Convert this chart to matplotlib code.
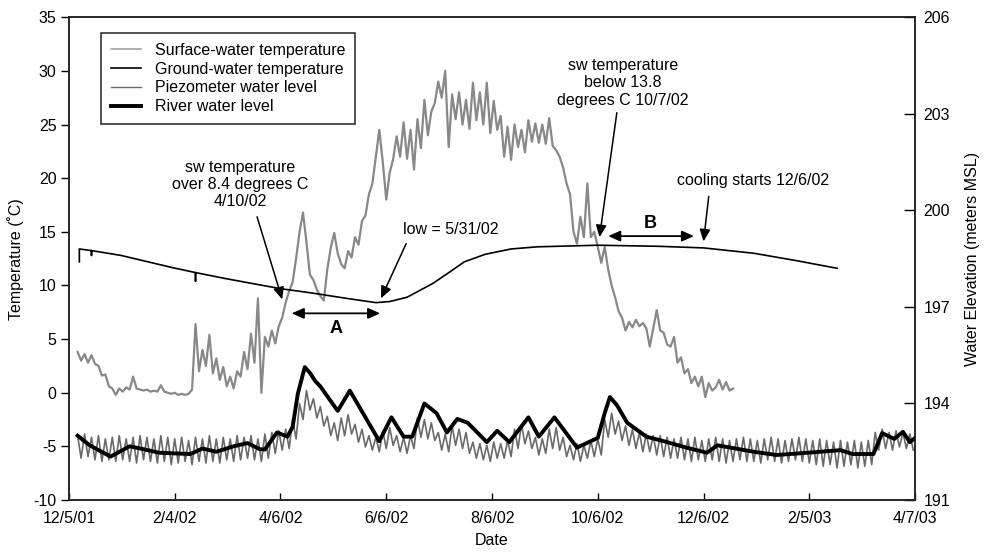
import numpy as np
import pandas as pd
import matplotlib
matplotlib.use('Agg')
import matplotlib.pyplot as plt

plt.rcParams['font.family'] = ['Liberation Sans', 'DejaVu Sans']
plt.rcParams['font.size'] = 11.5
plt.rcParams['axes.unicode_minus'] = False

start = pd.Timestamp('2001-12-05')

sw_temp = [
    3.8, 3.0, 3.6, 2.8, 3.5, 2.7, 2.5, 1.6, 1.7, 0.6,
    0.4, -0.2, 0.4, 0.1, 0.5, 0.3, 1.5, 0.4, 0.3, 0.2,
    0.3, 0.1, 0.2, 0.1, 0.7, 0.1, 0.0, -0.1, 0.0, -0.2,
    -0.1, -0.2, -0.1, 0.3, 6.4, 2.0, 4.0, 2.5, 5.4, 1.8,
    3.2, 1.2, 2.4, 0.6, 1.5, 0.4, 2.0, 1.5, 3.8, 2.2,
    5.5, 2.8, 8.8, 0.0, 5.2, 4.3, 5.8, 4.6, 6.2, 7.0,
    8.4, 9.5, 10.3, 12.5, 15.0, 16.8, 14.0, 11.0, 10.5, 9.6,
    9.0, 8.6, 11.5, 13.5, 14.9, 13.0, 12.0, 11.6, 13.2, 12.6,
    14.5, 13.8, 16.0, 16.5, 18.5, 19.5, 22.0, 24.5, 21.5, 18.0,
    20.5, 21.8, 23.9, 22.0, 25.2, 21.8, 24.5, 20.8, 25.5, 22.8,
    27.3, 24.0, 26.2, 27.0, 29.0, 27.5, 30.0, 22.9, 27.8, 25.5,
    28.0, 25.0, 27.3, 24.6, 28.9, 25.4, 28.0, 25.0, 28.9, 24.2,
    27.2, 24.5, 25.8, 22.0, 24.8, 21.7, 25.0, 22.9, 24.5, 22.4,
    25.4, 23.4, 25.1, 23.3, 25.0, 23.2, 25.6, 23.0, 22.6, 22.0,
    21.0, 19.5, 18.5, 15.0, 13.9, 16.4, 14.5, 19.5, 14.5, 15.0,
    13.6, 12.1, 13.6, 11.5, 10.0, 8.9, 7.6, 7.0, 5.8, 6.6,
    6.1, 6.8, 6.2, 6.5, 6.0, 4.3, 6.0, 7.7, 5.8, 5.6,
    4.5, 4.3, 5.2, 2.8, 3.3, 1.8, 2.2, 0.9, 1.5, 0.6,
    1.5, -0.4, 0.9, 0.2, 0.5, 1.2, 0.3, 1.0, 0.2, 0.4,
]

# ground-water temperature (deg C), days after 12/5/01
gw_days = [6, 6, 13, 13, 13, 30, 60, 73, 73, 73, 90, 122, 140, 160, 177,
           185, 195, 210, 220, 228, 240, 255, 270, 305, 340, 366, 395, 420, 443]
gw_temp = [12.2, 13.4, 13.25, 12.8, 13.25, 12.8, 11.65, 11.2, 10.4, 11.2, 10.65, 9.7, 9.3, 8.8, 8.4,
           8.5, 8.9, 10.2, 11.3, 12.2, 12.9, 13.4, 13.6, 13.75, 13.65, 13.5, 13.0, 12.3, 11.6]

piezo_level = [
    193.0, 192.3, 193.05, 192.35, 192.95, 192.25, 193.0, 192.2, 192.9, 192.25,
    192.95, 192.2, 193.0, 192.25, 192.9, 192.2, 192.95, 192.15, 193.0, 192.25,
    192.95, 192.2, 192.9, 192.15, 193.0, 192.2, 192.95, 192.1, 192.9, 192.15,
    192.95, 192.2, 192.85, 192.1, 192.95, 192.2, 192.9, 192.15, 193.0, 192.2,
    192.9, 192.15, 192.95, 192.25, 192.9, 192.2, 193.0, 192.25, 192.95, 192.3,
    193.0, 192.25, 192.9, 192.2, 193.05, 192.3, 193.1, 192.45, 193.15, 192.55,
    193.2, 192.6, 193.5, 192.9, 194.0, 193.5, 194.4, 193.8, 194.15, 193.55,
    193.9, 193.3, 193.6, 193.0, 193.4, 192.85, 193.55, 193.0, 193.65, 193.05,
    193.35, 192.8, 193.2, 192.65, 193.0, 192.55, 192.95, 192.5, 193.15, 192.6,
    193.25, 192.7, 193.0, 192.5, 192.95, 192.45, 193.0, 192.6, 193.55, 192.95,
    193.5, 192.9, 193.4, 192.85, 193.1, 192.55, 193.05, 192.5, 193.3, 192.7,
    193.2, 192.6, 193.1, 192.45, 192.8, 192.3, 192.75, 192.25, 192.7, 192.2,
    192.8, 192.3, 192.75, 192.3, 192.85, 192.35, 193.2, 192.6, 193.35, 192.75,
    193.15, 192.6, 192.95, 192.4, 192.9, 192.45, 193.2, 192.6, 193.25, 192.55,
    192.95, 192.35, 192.7, 192.25, 192.75, 192.2, 192.7, 192.3, 192.85, 192.35,
    192.9, 192.4, 193.5, 192.95, 193.7, 193.05, 193.45, 192.85, 193.3, 192.7,
    193.2, 192.6, 193.1, 192.5, 193.05, 192.5, 193.0, 192.4, 193.0, 192.35,
    192.95, 192.3, 192.9, 192.3, 192.95, 192.25, 192.9, 192.2, 192.95, 192.25,
    192.85, 192.2, 192.9, 192.25, 192.95, 192.2, 192.9, 192.15, 192.85, 192.2,
    192.9, 192.25, 192.95, 192.2, 192.9, 192.2, 192.85, 192.15, 192.9, 192.25,
    192.95, 192.2, 192.9, 192.15, 192.85, 192.2, 192.9, 192.25, 192.95, 192.2,
    192.9, 192.15, 192.85, 192.1, 192.9, 192.05, 192.85, 192.1, 192.8, 192.0,
    192.85, 192.05, 192.8, 192.1, 192.85, 192.0, 192.8, 192.05, 192.85, 192.1,
    193.1, 192.55, 193.2, 192.6, 193.1, 192.55, 193.15, 192.65, 193.1, 192.6,
    193.05, 192.55,
]

# river water level (m MSL), days after 12/5/01
river_days = [5, 12, 24, 35, 43, 52, 70, 77, 85, 95, 103, 110, 113, 120, 126, 129, 132, 136, 139, 142,
              145, 155, 162, 179, 186, 193, 198, 205, 212, 218, 224, 230, 241, 247, 254, 265, 271, 280, 293, 305,
              309, 312, 316, 322, 333, 345, 356, 368, 374, 395, 408, 426, 445, 452, 464, 469, 476, 481, 485, 488]
river_level = [193.00, 192.70, 192.35, 192.67, 192.58, 192.47, 192.43, 192.60, 192.50, 192.67,
               192.77, 192.58, 192.57, 193.10, 192.97, 193.27, 194.30, 195.13, 194.95, 194.70,
               194.53, 193.77, 194.40, 192.83, 193.57, 192.97, 192.97, 194.00, 193.70, 193.10,
               193.52, 193.40, 192.80, 193.15, 192.80, 193.57, 192.97, 193.57, 192.63, 192.93,
               193.70, 194.20, 193.95, 193.40, 192.97, 192.80, 192.63, 192.47, 192.70, 192.50,
               192.40, 192.47, 192.55, 192.43, 192.43, 193.08, 192.90, 193.12, 192.80, 192.93]

tick_labels = ['12/5/01', '2/4/02', '4/6/02', '6/6/02', '8/6/02', '10/6/02', '12/6/02', '2/5/03', '4/7/03']


def to_dates(days):
    return start + pd.to_timedelta(np.asarray(days, dtype=float), unit='D')


def day_temp(day, temp):
    return (start + pd.Timedelta(days=day), temp)


sw_dates = to_dates(np.arange(len(sw_temp)) * 2 + 5)
piezo_dates = to_dates(np.arange(len(piezo_level)) * 2 + 5)

fig = plt.figure(figsize=(9.85, 5.55), dpi=100)
ax = fig.add_axes([0.070, 0.099, 0.859, 0.870])
ax2 = ax.twinx()

l1, = ax.plot(sw_dates, sw_temp, color='#888888', lw=1.6, label='Surface-water temperature')
l2, = ax.plot(to_dates(gw_days), gw_temp, color='black', lw=1.2, label='Ground-water temperature')
l3, = ax2.plot(piezo_dates, piezo_level, color='#6a6a6a', lw=1.2, label='Piezometer water level')
l4, = ax2.plot(to_dates(river_days), river_level, color='black', lw=2.8, solid_joinstyle='round',
               label='River water level')

tick_dates = pd.to_datetime(tick_labels, format='%m/%d/%y')
ax.set_xlim(tick_dates[0], tick_dates[-1])
ax.set_xticks(tick_dates)
ax.set_xticklabels(tick_labels)
ax.set_ylim(-10, 35)
ax.set_yticks(range(-10, 36, 5))
ax2.set_ylim(191, 206)
ax2.set_yticks(range(191, 207, 3))

ax.tick_params(axis='y', direction='out', length=6, width=1, pad=3)
ax.tick_params(axis='x', direction='in', length=5, width=1, pad=8)
ax2.tick_params(axis='y', direction='in', length=8, width=1, pad=6)
for a in (ax, ax2):
    for s in a.spines.values():
        s.set_linewidth(1.1)
        s.set_color('#222222')

ax.set_xlabel('Date', labelpad=5)
ax.set_ylabel('Temperature (˚C)', labelpad=7)
ax2.set_ylabel('Water Elevation (meters MSL)', labelpad=11)

leg = ax2.legend(handles=[l1, l2, l3, l4], loc='upper left', bbox_to_anchor=(0.038, 0.967),
                 borderaxespad=0, fancybox=False, framealpha=1, edgecolor='#222222',
                 handlelength=1.9, handletextpad=0.9, labelspacing=0.24, borderpad=0.6)
leg.get_frame().set_linewidth(1.1)
leg.legend_handles[0].set_color('#9a9a9a')
leg.legend_handles[0].set_linewidth(1.1)
leg.legend_handles[2].set_linewidth(1.0)

arrow = dict(arrowstyle='-|>,head_length=0.45,head_width=0.2', color='black', lw=1.1,
             mutation_scale=16, shrinkA=0, shrinkB=0)
both = dict(arrowstyle='<|-|>,head_length=0.45,head_width=0.2', color='black', lw=1.3,
            mutation_scale=16, shrinkA=0, shrinkB=0)

ax.text(*day_temp(99, 19.4), 'sw temperature\nover 8.4 degrees C\n4/10/02', ha='center', va='center')
ax.annotate('', xy=day_temp(123, 8.7), xytext=day_temp(108.5, 16.4), arrowprops=arrow)

ax.text(*day_temp(220, 15.25), 'low = 5/31/02', ha='center', va='center')
ax.annotate('', xy=day_temp(180, 8.8), xytext=day_temp(194.5, 13.9), arrowprops=arrow)

ax.text(*day_temp(319.5, 28.9), 'sw temperature\nbelow 13.8\ndegrees C 10/7/02', ha='center', va='center')
ax.annotate('', xy=day_temp(306, 14.5), xytext=day_temp(316, 26.1), arrowprops=arrow)

ax.text(*day_temp(394.5, 19.8), 'cooling starts 12/6/02', ha='center', va='center')
ax.annotate('', xy=day_temp(366, 14.1), xytext=day_temp(369, 18.3), arrowprops=arrow)

ax.annotate('', xy=day_temp(128.5, 7.4), xytext=day_temp(179.5, 7.4), arrowprops=both)
ax.text(*day_temp(154, 6.0), 'A', ha='center', va='center', fontweight='bold', fontsize=13)

ax.annotate('', xy=day_temp(311, 14.6), xytext=day_temp(360.5, 14.6), arrowprops=both)
ax.text(*day_temp(335, 15.8), 'B', ha='center', va='center', fontweight='bold', fontsize=13)

fig.savefig('out.png', dpi=100)
